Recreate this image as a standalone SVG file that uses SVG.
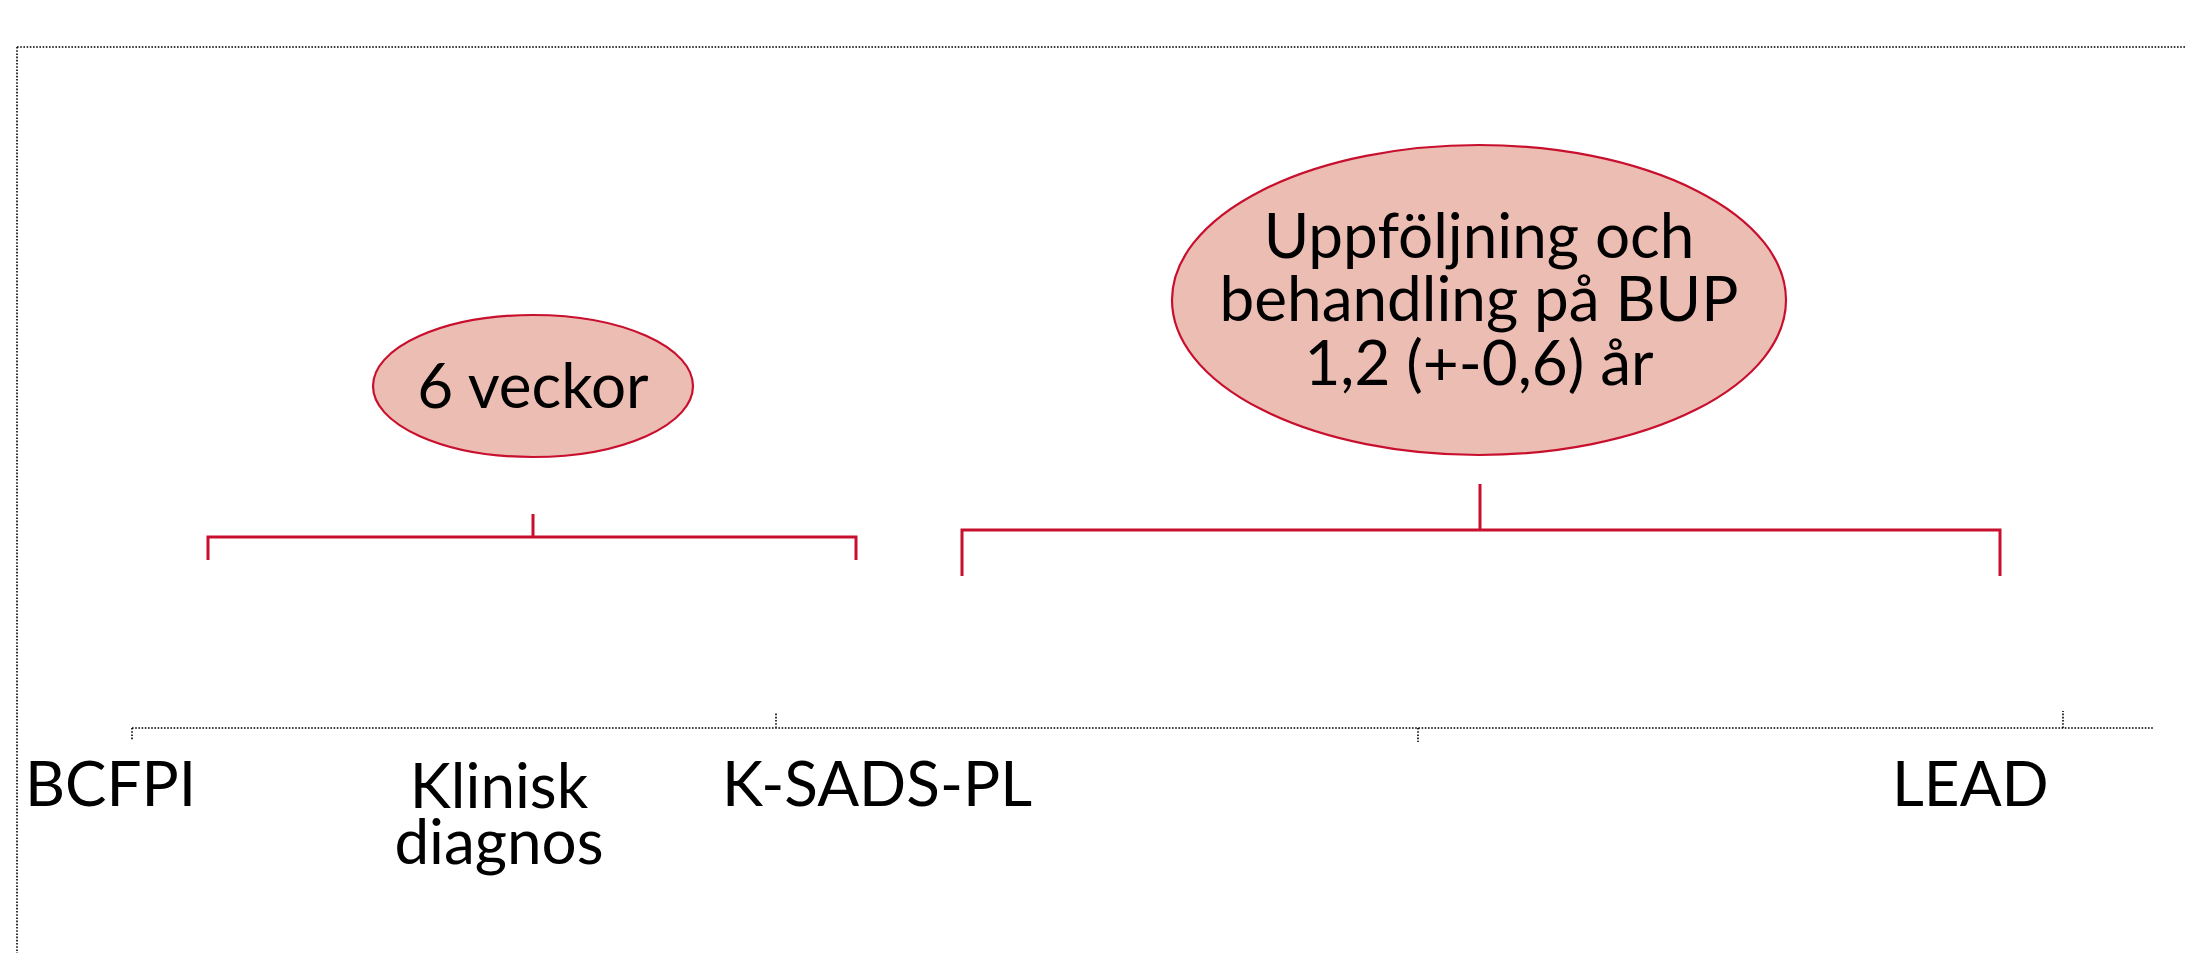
<svg xmlns="http://www.w3.org/2000/svg" width="2186" height="953" viewBox="0 0 2186 953">
<style>
.dot{stroke:#000;stroke-width:1.6;stroke-dasharray:1.6 1.6;fill:none}
.br{stroke:#C8102E;stroke-width:3;fill:none}
.ell{fill:#ECBDB3;stroke:#C8102E;stroke-width:2.2}
.t{font-family:Lato,"Liberation Sans",sans-serif;font-size:62px;fill:#000}
</style>
<rect width="2186" height="953" fill="#fff"/>
<g id="frame">
<path class="dot" d="M17 47 H2186 M17 47 V953"/>
</g>
<g id="connectors">
<path class="dot" d="M132 728 H2154 M132 728 V740 M776 728 V713 M1418 728 V742 M2063 728 V711"/>
<path class="br" d="M208 560 V537 H856 V560 M533 537 V514"/>
<path class="br" d="M962 576 V530 H2000 V576 M1480 530 V484"/>
</g>
<g id="node-6veckor">
<ellipse class="ell" cx="533" cy="386" rx="160" ry="71"/>
<text class="t" x="533" y="408" text-anchor="middle">6 veckor</text>
</g>
<g id="node-uppfoljning">
<ellipse class="ell" cx="1479" cy="300" rx="307" ry="155"/>
<text class="t" text-anchor="middle"><tspan x="1479" y="258">Uppföljning och</tspan><tspan x="1479" y="321">behandling på BUP</tspan><tspan x="1479" y="385">1,2 (+-0,6) år</tspan></text>
</g>
<g id="label-bcfpi"><text class="t" x="25" y="806">BCFPI</text></g>
<g id="label-klinisk"><text class="t" text-anchor="middle"><tspan x="499" y="808">Klinisk</tspan><tspan x="499" y="864">diagnos</tspan></text></g>
<g id="label-ksads"><text class="t" x="722" y="806">K-SADS-PL</text></g>
<g id="label-lead"><text class="t" x="1892" y="806">LEAD</text></g>
</svg>
